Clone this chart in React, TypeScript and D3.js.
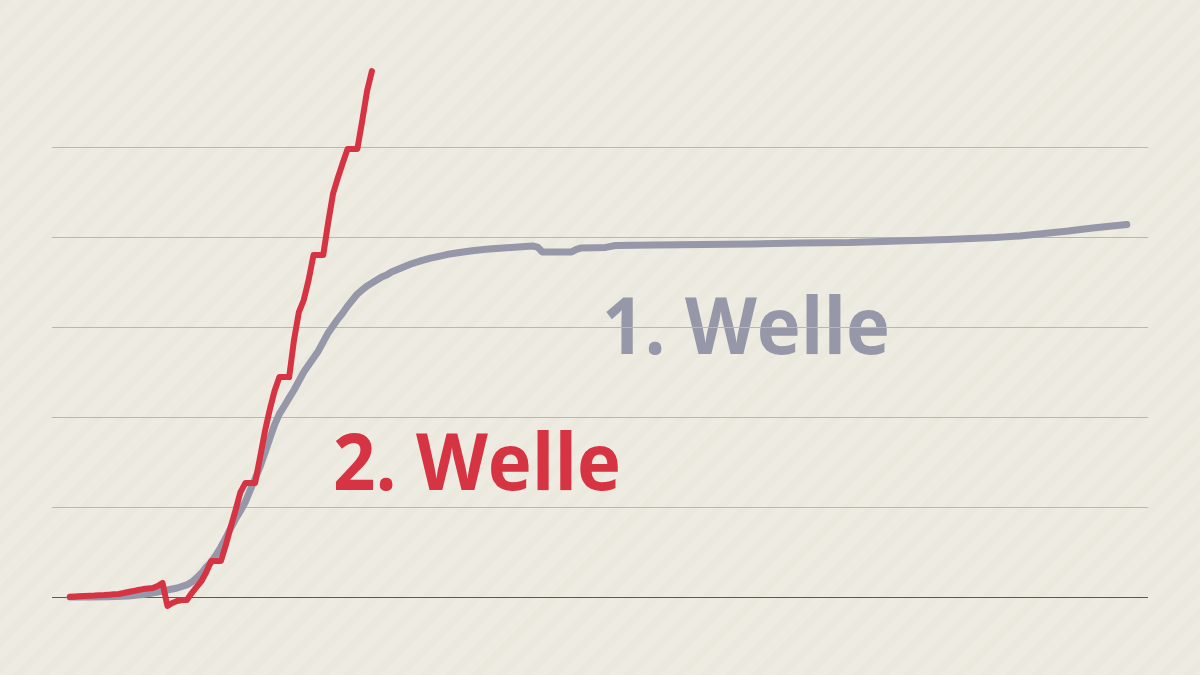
import React from "react";
import * as d3 from "d3";

// Day index since start of each wave
const wave2Days = d3.range(0, 63);
const wave2Values = [
  0, 2, 4, 6, 7, 8, 10, 11, 13, 15, 17, 22, 28, 33, 39, 44, 47, 50, 61, 78,
  -50, -33, -22, -17, -17, 22, 56, 89, 139, 200, 200, 200, 289, 389, 483, 583,
  633, 633, 633, 772, 917, 1039, 1144, 1222, 1222, 1222, 1428, 1583, 1650, 1761,
  1900, 1900, 1900, 2078, 2239, 2328, 2411, 2489, 2489, 2489, 2644, 2811, 2922,
];

const wave1Days = [
  0, 4, 8, 12, 15, 18, 20, 22, 24, 25, 26, 27, 28, 29, 30, 31, 32, 33, 34, 35,
  36, 37, 38, 39, 40, 41, 42, 43, 44, 45, 46, 47, 48, 49, 50, 51, 52, 53, 54, 55,
  56, 57, 58, 59, 60, 61, 62, 63, 64, 65, 66, 67, 68, 70, 72, 74, 76, 78, 80, 83,
  86, 89, 92, 95, 96, 97, 100, 103, 104, 105, 110, 112, 120, 130, 140, 150, 160,
  170, 180, 190, 195, 198, 205, 210, 214, 217,
];
const wave1Values = [
  0, 0, 2, 6, 14, 28, 39, 50, 67, 83, 106, 133, 167, 194, 233, 278, 328, 383, 433, 478,
  528, 594, 656, 722, 800, 878, 956, 1017, 1061, 1106, 1150, 1200, 1250, 1289, 1328, 1367, 1417, 1467, 1506, 1544,
  1578, 1617, 1650, 1683, 1706, 1728, 1744, 1761, 1778, 1789, 1806, 1817, 1828, 1850, 1867, 1883, 1894, 1906, 1914, 1925,
  1933, 1939, 1944, 1950, 1944, 1917, 1917, 1917, 1931, 1939, 1942, 1953, 1956, 1958, 1961, 1967, 1969,
  1978, 1986, 1997, 2006, 2014, 2033, 2050, 2061, 2069,
];

const gridValues = [0, 500, 1000, 1500, 2000, 2500];
const labelTexts = ["1. Welle", "2. Welle"];

const W = 1200;
const H = 675;
const RED = "#d63343";
const GRAY = "#9697a8";

export default function App() {
  const x = d3.scaleLinear().domain([0, 217]).range([70, 70 + 4.87 * 217]);
  const y = d3.scaleLinear().domain([0, 2500]).range([597, 147]);

  const line = d3
    .line<[number, number]>()
    .x((d) => x(d[0]))
    .y((d) => y(d[1]))
    .curve(d3.curveLinear);

  const w1 = line(wave1Days.map((d, i) => [d, wave1Values[i]]));
  const w2 = line(wave2Days.map((d, i) => [d, wave2Values[i]]));

  const labelPos = [
    { x: 602, y: 354, fill: GRAY },
    { x: 333, y: 490, fill: RED },
  ];

  return (
    <svg
      width={W}
      height={H}
      viewBox={`0 0 ${W} ${H}`}
      style={{ position: "fixed", left: 0, top: 0, display: "block" }}
    >
      <defs>
        <pattern
          id="stripes"
          width="18"
          height="18"
          patternUnits="userSpaceOnUse"
          patternTransform="rotate(45)"
        >
          <rect width="18" height="18" fill="#eeebe2" />
          <rect width="8" height="18" fill="#ebe8de" />
        </pattern>
      </defs>
      <rect width={W} height={H} fill="url(#stripes)" />

      {labelTexts.map((t, i) => (
        <text
          key={t}
          x={labelPos[i].x}
          y={labelPos[i].y}
          fill={labelPos[i].fill}
          fontFamily="'Open Sans', 'Noto Sans', sans-serif"
          fontWeight={700}
          fontSize={78}
          textLength={288}
          lengthAdjust="spacingAndGlyphs"
        >
          {t}
        </text>
      ))}

      {gridValues.map((v) => (
        <line
          key={v}
          x1={52}
          x2={1148}
          y1={Math.round(y(v)) + 0.5}
          y2={Math.round(y(v)) + 0.5}
          stroke={v === 0 ? "#5a5a52" : "#b9b8ae"}
          strokeWidth={1}
        />
      ))}

      <path
        d={w1 || ""}
        fill="none"
        stroke={GRAY}
        strokeWidth={7}
        strokeLinejoin="round"
        strokeLinecap="round"
      />
      <path
        d={w2 || ""}
        fill="none"
        stroke={RED}
        strokeWidth={6}
        strokeLinejoin="round"
        strokeLinecap="round"
      />
    </svg>
  );
}
